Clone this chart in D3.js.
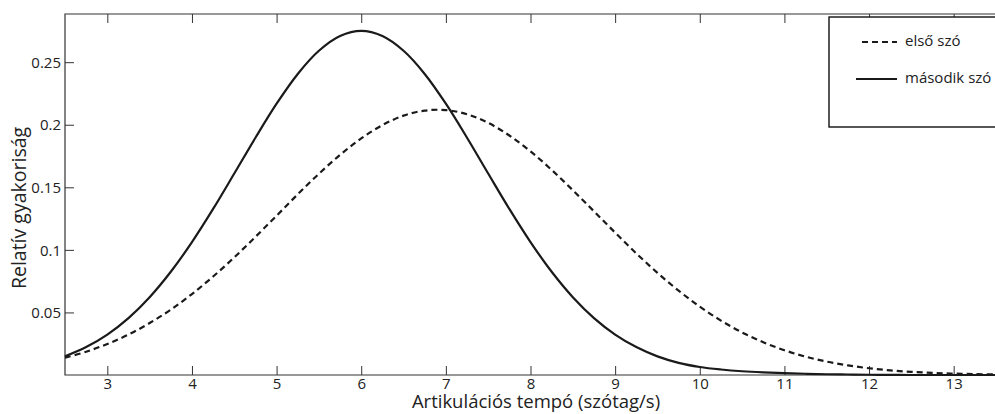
<!DOCTYPE html>
<html>
<head>
<meta charset="utf-8">
<script src="https://cdn.jsdelivr.net/npm/d3@7"></script>
<style>
  html, body { margin: 0; padding: 0; background: #fff; }
  svg { display: block; }
  text { font-family: "Open Sans", "Noto Sans", sans-serif; fill: #222; }
</style>
</head>
<body>
<svg id="chart" width="995" height="414"></svg>
<script>
// Articulation rate (syllables/s) sample points
const rate = [2.5, 2.75, 3, 3.25, 3.5, 3.75, 4, 4.25, 4.5, 4.75, 5, 5.25, 5.5, 5.75,
  6, 6.25, 6.5, 6.75, 7, 7.25, 7.5, 7.75, 8, 8.25, 8.5, 8.75, 9, 9.25, 9.5, 9.75,
  10, 10.25, 10.5, 10.75, 11, 11.25, 11.5, 11.75, 12, 12.25, 12.5, 12.75, 13, 13.25, 13.5];

// Relative frequency, first word (dashed)
const firstWord = [0.0138, 0.0186, 0.0248, 0.0323, 0.0415, 0.0522, 0.0647, 0.0787, 0.0940, 0.1104,
  0.1273, 0.1444, 0.1608, 0.1759, 0.1891, 0.1997, 0.2073, 0.2113, 0.2117, 0.2084,
  0.2015, 0.1914, 0.1787, 0.1639, 0.1477, 0.1308, 0.1138, 0.0972, 0.0816, 0.0674,
  0.0546, 0.0435, 0.0340, 0.0262, 0.0198, 0.0147, 0.0107, 0.0077, 0.0054, 0.0037,
  0.0025, 0.0017, 0.0011, 0.0007, 0.0005];

// Relative frequency, second word (solid)
const secondWord = [0.0149, 0.0223, 0.0323, 0.0455, 0.0622, 0.0825, 0.1062, 0.1327, 0.1610, 0.1896,
  0.2168, 0.2406, 0.2591, 0.2709, 0.2750, 0.2709, 0.2591, 0.2406, 0.2168, 0.1896,
  0.1610, 0.1327, 0.1062, 0.0825, 0.0622, 0.0455, 0.0323, 0.0223, 0.0149, 0.0097,
  0.0064, 0.0044, 0.0030, 0.0021, 0.0015, 0.0010, 0.0006, 0.0004, 0.0002, 0.0001,
  0.0000, 0.0000, 0.0000, 0.0000, 0.0000];

const xTicks = [3, 4, 5, 6, 7, 8, 9, 10, 11, 12, 13];
const yTicks = [0.05, 0.1, 0.15, 0.2, 0.25];
const yTickLabels = ["0.05", "0.1", "0.15", "0.2", "0.25"];
const legendLabels = ["első szó", "második szó"];
const xLabel = "Artikulációs tempó (szótag/s)";
const yLabel = "Relatív gyakoriság";

const svg = d3.select("#chart");
const plotLeft = 65, plotRight = 996, plotTop = 14, plotBottom = 375;

const x = d3.scaleLinear().domain([2.5, 13.5]).range([plotLeft, plotRight]);
const y = d3.scaleLinear().domain([0, 0.2885]).range([plotBottom, plotTop]);

const axisColor = "#333";
const tickLen = 9;

// Plot frame
svg.append("path")
  .attr("d", `M${plotRight},${plotTop}H${plotLeft}V${plotBottom}H${plotRight}V${plotTop}`)
  .attr("fill", "none").attr("stroke", axisColor).attr("stroke-width", 1.2);

// Bottom axis with inward ticks
const xAxis = d3.axisBottom(x).tickValues(xTicks).tickSizeInner(-tickLen).tickSizeOuter(0)
  .tickFormat(d3.format("d"));
const gx = svg.append("g").attr("transform", `translate(0,${plotBottom})`).call(xAxis);
gx.select(".domain").remove();
gx.selectAll("line").attr("stroke", axisColor).attr("stroke-width", 1);
gx.selectAll("text").attr("font-size", 15).attr("fill", "#222")
  .attr("font-family", "'Open Sans', sans-serif").attr("y", 14).attr("dy", 0);

// Mirrored ticks at the top
const gxTop = svg.append("g").attr("transform", `translate(0,${plotTop})`)
  .call(d3.axisTop(x).tickValues(xTicks).tickSizeInner(-tickLen).tickSizeOuter(0).tickFormat(""));
gxTop.select(".domain").remove();
gxTop.selectAll("line").attr("stroke", axisColor).attr("stroke-width", 1);

// Left axis with inward ticks
const yAxis = d3.axisLeft(y).tickValues(yTicks).tickSizeInner(-tickLen).tickSizeOuter(0)
  .tickFormat((d, i) => yTickLabels[i]);
const gy = svg.append("g").attr("transform", `translate(${plotLeft},0)`).call(yAxis);
gy.select(".domain").remove();
gy.selectAll("line").attr("stroke", axisColor).attr("stroke-width", 1);
gy.selectAll("text").attr("font-size", 15).attr("fill", "#222")
  .attr("font-family", "'Open Sans', sans-serif").attr("x", -4).attr("dy", "0.35em");

// Density curves
const line = d3.line().x(d => x(d[0])).y(d => y(d[1])).curve(d3.curveCatmullRom);
const plot = svg.append("g");
plot.append("path")
  .datum(rate.map((r, i) => [r, firstWord[i]]))
  .attr("d", line).attr("fill", "none").attr("stroke", "#1a1a1a")
  .attr("stroke-width", 2.2).attr("stroke-dasharray", "6,4");
plot.append("path")
  .datum(rate.map((r, i) => [r, secondWord[i]]))
  .attr("d", line).attr("fill", "none").attr("stroke", "#1a1a1a")
  .attr("stroke-width", 2.2);

// Legend
const lg = svg.append("g");
lg.append("rect").attr("x", 829).attr("y", 17).attr("width", 200).attr("height", 110)
  .attr("fill", "#fff").attr("stroke", "#111").attr("stroke-width", 1.4);
const legendStyles = ["6,4", null];
const legendX1 = [862, 856];
const legendY = [42, 79];
legendLabels.forEach((lab, i) => {
  const ln = lg.append("line").attr("x1", legendX1[i]).attr("x2", 897)
    .attr("y1", legendY[i]).attr("y2", legendY[i])
    .attr("stroke", "#1a1a1a").attr("stroke-width", 2.2);
  if (legendStyles[i]) ln.attr("stroke-dasharray", legendStyles[i]);
  lg.append("text").attr("x", 905).attr("y", legendY[i] + 4)
    .attr("font-size", 15).text(lab);
});

// Axis titles
svg.append("text").attr("x", 536).attr("y", 408).attr("text-anchor", "middle")
  .attr("font-size", 18.5).text(xLabel);
svg.append("text").attr("transform", "translate(26,208) rotate(-90)")
  .attr("text-anchor", "middle").attr("font-size", 19.5).text(yLabel);
</script>
</body>
</html>
